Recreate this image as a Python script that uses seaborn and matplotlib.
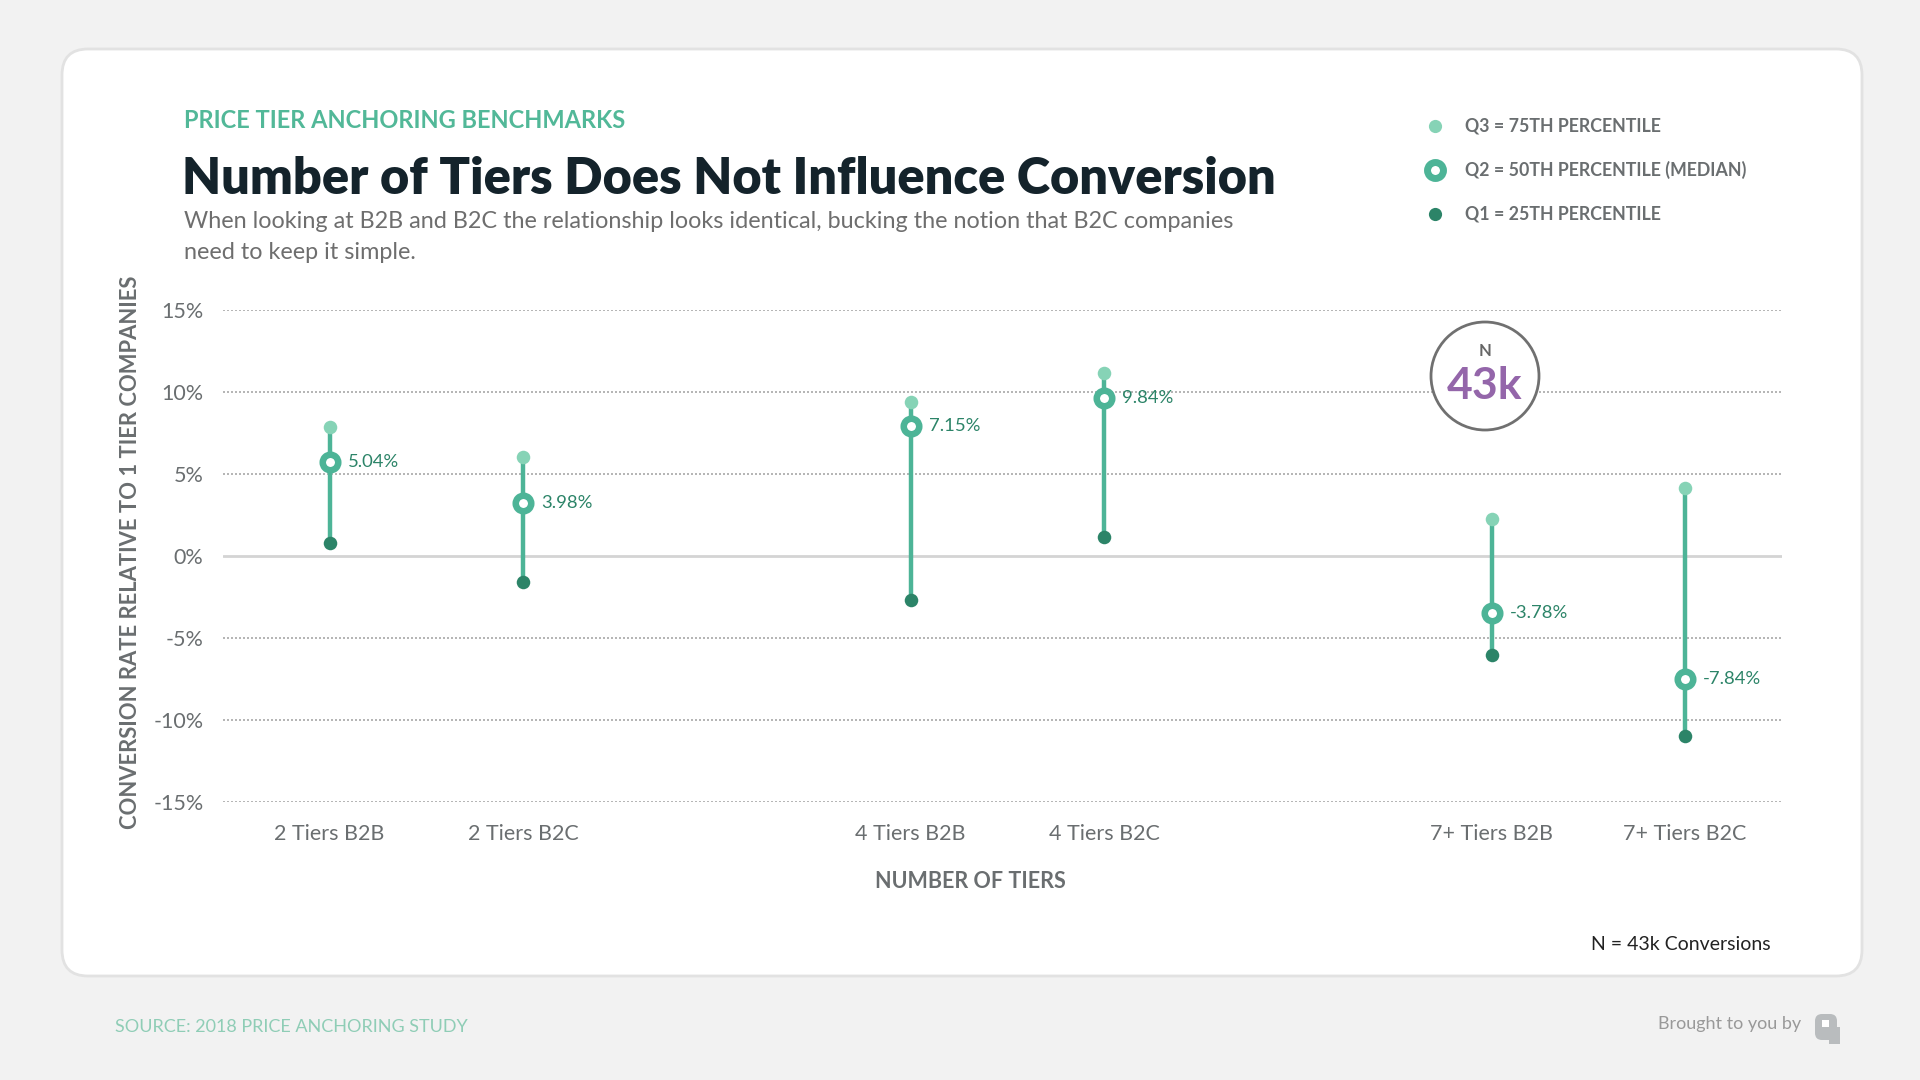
import pandas as pd
import matplotlib.pyplot as plt
import matplotlib.transforms as mtrans
from matplotlib.patches import FancyBboxPatch, Circle, Rectangle
from matplotlib.lines import Line2D
import seaborn as sns

# data (percent, relative to 1 tier companies)
categories = ["2 Tiers B2B", "2 Tiers B2C", "4 Tiers B2B", "4 Tiers B2C", "7+ Tiers B2B", "7+ Tiers B2C"]
positions = [0, 1, 3, 4, 6, 7]
q3 = [7.84, 6.01, 9.40, 11.13, 2.25, 4.16]
q2 = [5.75, 3.21, 7.95, 9.61, -3.50, -7.50]
q1 = [0.77, -1.57, -2.68, 1.13, -6.04, -10.96]
q2_labels = ["5.04%", "3.98%", "7.15%", "9.84%", "-3.78%", "-7.84%"]
y_ticks = [-15, -10, -5, 0, 5, 10, 15]

df = pd.DataFrame({"cat": categories, "x": positions, "q1": q1, "q2": q2, "q3": q3})

LIGHT = "#86d3b6"
MID = "#4db497"
DARK = "#2c8468"
GRAY = "#6a6e70"

sns.set_theme(style="white")
plt.rcParams["font.family"] = ["Lato", "DejaVu Sans"]

fig = plt.figure(figsize=(19.2, 10.8), dpi=100)
fig.patch.set_facecolor("#f2f2f2")
px = mtrans.IdentityTransform()

# white card, behind the axes
card = FancyBboxPatch((62, 104), 1800, 927, boxstyle="round,pad=0,rounding_size=26",
                      transform=px, facecolor="white", edgecolor="#e2e2e2", linewidth=2, zorder=-5)
fig.patches.append(card)

ax = fig.add_axes([223 / 1920, 1 - 802 / 1080, (1782 - 223) / 1920, (802 - 310) / 1080])
ax.set_facecolor("none")
ax.set_xlim(-0.55, 7.5)
ax.set_ylim(-15, 15)
for s in ax.spines.values():
    s.set_visible(False)

# grid
for t in y_ticks:
    if t == 0:
        ax.axhline(t, color="#d4d4d4", lw=2, zorder=1)
    else:
        ax.axhline(t, color="#a8a8a8", lw=1.2, ls=(0, (1.2, 1.2)), zorder=1)

# stems
ax.vlines(df["x"], df["q1"], df["q3"], color=MID, lw=3.2, zorder=2)

sns.scatterplot(data=df, x="x", y="q3", ax=ax, color=LIGHT, s=95, linewidth=0, zorder=3, clip_on=False)
sns.scatterplot(data=df, x="x", y="q1", ax=ax, color=DARK, s=95, linewidth=0, zorder=3, clip_on=False)
sns.scatterplot(data=df, x="x", y="q2", ax=ax, color="white", edgecolor=MID, s=125,
                linewidth=4.7, zorder=4, clip_on=False)

for xv, yv, lab in zip(positions, q2, q2_labels):
    ax.annotate(lab, (xv, yv), xytext=(13, 0), textcoords="offset points",
                va="center", ha="left", fontsize=13.3, color=DARK, zorder=5)

ax.set_xticks(positions)
ax.set_xticklabels(categories)
ax.set_yticks(y_ticks)
ax.set_yticklabels([f"{t}%" for t in y_ticks])
ax.tick_params(axis="x", length=0, pad=16, labelsize=15.5, labelcolor=GRAY)
ax.tick_params(axis="y", length=0, pad=14, labelsize=15.5, labelcolor=GRAY)
ax.set_xlabel("")
ax.set_ylabel("")

fig.text(970 / 1920, 1 - 882 / 1080, "NUMBER OF TIERS", ha="center", va="center",
         fontsize=15.5, fontweight="bold", color=GRAY)
fig.text(131 / 1920, 1 - 552 / 1080, "CONVERSION RATE RELATIVE TO 1 TIER COMPANIES", rotation=90,
         ha="center", va="center", fontsize=15.8, fontweight="bold", color=GRAY)

# header
fig.text(184 / 1920, 1 - 121 / 1080, "PRICE TIER ANCHORING BENCHMARKS", ha="left", va="center",
         fontsize=17, fontweight="bold", color="#52b898")
fig.text(182 / 1920, 1 - 179 / 1080, "Number of Tiers Does Not Influence Conversion", ha="left",
         va="center", fontsize=36.4, fontweight="heavy", color="#14232b")
fig.text(184 / 1920, 1 - 222 / 1080, "When looking at B2B and B2C the relationship looks identical, bucking the notion that B2C companies",
         ha="left", va="center", fontsize=16.8, color="#6e6e6e")
fig.text(184 / 1920, 1 - 252 / 1080, "need to keep it simple.", ha="left", va="center",
         fontsize=16.8, color="#6e6e6e")

# legend
leg_items = [("Q3 = 75TH PERCENTILE", 126), ("Q2 = 50TH PERCENTILE (MEDIAN)", 170), ("Q1 = 25TH PERCENTILE", 214)]
fig.add_artist(Line2D([1435 / 1920], [1 - 126 / 1080], marker="o", ms=9.5, color=LIGHT, mew=0, ls=""))
fig.add_artist(Line2D([1435 / 1920], [1 - 170 / 1080], marker="o", ms=11.5, mfc="white", mec=MID, mew=5, ls=""))
fig.add_artist(Line2D([1435 / 1920], [1 - 214 / 1080], marker="o", ms=9.5, color=DARK, mew=0, ls=""))
for lab, yy in leg_items:
    fig.text(1465 / 1920, 1 - yy / 1080, lab, ha="left", va="center", fontsize=12.8,
             fontweight="bold", color=GRAY)

# N badge
fig.patches.append(Circle((1485, 1080 - 376), 54, transform=px, facecolor="white",
                          edgecolor="#707070", linewidth=2, zorder=5))
fig.text(1485 / 1920, 1 - 351 / 1080, "N", ha="center", va="center", fontsize=12,
         fontweight="bold", color="#666666", zorder=6)
fig.text(1485 / 1920, 1 - 386 / 1080, "43k", ha="center", va="center", fontsize=32,
         fontweight="bold", color="#9466aa", zorder=6)

fig.text(1771 / 1920, 1 - 944 / 1080, "N = 43k Conversions", ha="right", va="center",
         fontsize=14, color="#222222")

# footer
fig.text(115 / 1920, 1 - 1027 / 1080, "SOURCE: 2018 PRICE ANCHORING STUDY", ha="left", va="center",
         fontsize=13, color="#8fcdb6")
fig.text(1801 / 1920, 1 - 1024 / 1080, "Brought to you by", ha="right", va="center",
         fontsize=13, color="#999999")
# small logo mark
fig.patches.append(FancyBboxPatch((1815, 1080 - 1040), 22, 26, boxstyle="round,pad=0,rounding_size=7",
                                  transform=px, facecolor="#b9bcbe", edgecolor="none"))
fig.patches.append(Rectangle((1829, 1080 - 1044), 11, 17, transform=px, facecolor="#b9bcbe", edgecolor="none"))
fig.patches.append(Rectangle((1822, 1080 - 1027), 7, 7, transform=px, facecolor="white", edgecolor="none"))

fig.savefig("out.png", dpi=100, facecolor=fig.get_facecolor())
plt.close(fig)
